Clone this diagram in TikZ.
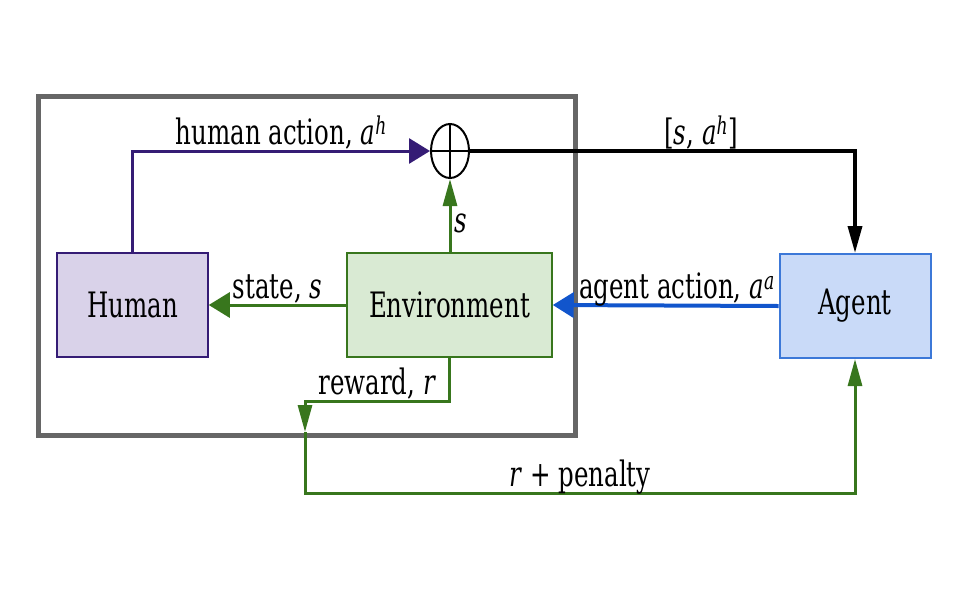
\documentclass[tikz,border=0pt]{standalone}
\usepackage{fontspec}
\setmainfont{DejaVu Serif}[FakeStretch=0.7]
\usetikzlibrary{arrows.meta,shapes.geometric}
\definecolor{humanfill}{HTML}{D9D2E9}
\definecolor{humanline}{HTML}{351C75}
\definecolor{envfill}{HTML}{D9EAD3}
\definecolor{envline}{HTML}{38761D}
\definecolor{agentfill}{HTML}{C9DAF8}
\definecolor{agentline}{HTML}{3C78D8}
\definecolor{actline}{HTML}{1155CC}
\definecolor{frame}{HTML}{666666}

\begin{document}
\begin{tikzpicture}[x=1pt,y=-1pt,
                    block/.style={rectangle,line width=1.5pt,minimum width=151pt,minimum height=104pt,font=\fontsize{35}{40}\selectfont},
                    lbl/.style={anchor=base,yshift=7pt,inner sep=0pt,font=\fontsize{35}{40}\selectfont},
                    harrow/.style={-{Triangle[length=21pt,width=25pt]}},
                    varrow/.style={-{Triangle[length=27pt,width=14pt]}}
                ]
                    \useasboundingbox (0,0) rectangle (960,600);

                    \draw[frame,line width=5pt] (38,96) rectangle (575,435);

                    \node[block,draw=humanline,fill=humanfill] (human) at (132.5,305) {Human};
                    \node[block,draw=envline,fill=envfill,minimum width=205pt] (env) at (449.5,305) {Environment};
                    \node[block,draw=agentline,fill=agentfill,line width=2pt] (agent) at (855,306) {Agent};
                    \node[ellipse,draw,line width=2pt,minimum width=38pt,minimum height=54pt,inner sep=0pt] (plus) at (450,151) { };
                    \draw[line width=2pt] (plus.north) -- (plus.south);
                    \draw[line width=2pt] (plus.west) -- (plus.east);

                    \coordinate (rmid) at (305,432);
                    \coordinate (rbot) at (305,493);

                    \draw[harrow,humanline,line width=3pt] (human.north) |- node[lbl,pos=0.75,text=black] {human action, \textit{a}\textsuperscript{\textit{h}}} (plus.west);
                    \draw[varrow,envline,line width=3pt] (env.north -| plus) -- node[right,pos=0.4,text=black,font=\fontsize{35}{40}\selectfont] {\textit{s}} (plus.south);
                    \draw[varrow,black,line width=3.5pt] (plus.east) -| node[lbl,pos=0.3] {[\textit{s}, \textit{a}\textsuperscript{\textit{h}}]} (agent.north);
                    \draw[harrow,actline,line width=4pt] (agent.west) -- node[lbl,pos=0.45,text=black] {agent action, \textit{a}\textsuperscript{\textit{a}}} (env.east);
                    \draw[harrow,envline,line width=3pt] (env.west) -- node[lbl,text=black] {state, \textit{s}} (human.east);
                    \draw[varrow,envline,line width=3pt] (env.south) -- ++(0,44) -| node[lbl,pos=0.25,text=black] {reward, \textit{r}} (rmid);
                    \draw[varrow,envline,line width=3pt] (rmid) -- (rbot) -| node[lbl,pos=0.25,text=black] {\textit{r} + penalty} (agent.south);

                \end{tikzpicture}
\end{document}
